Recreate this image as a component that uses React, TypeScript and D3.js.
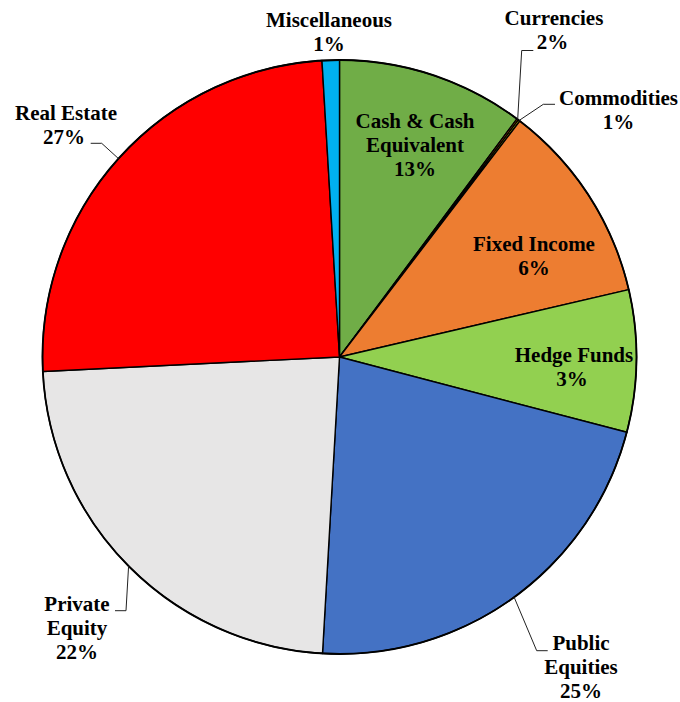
import React from "react";
import * as d3 from "d3";

// ---- data ----
const categories = [
  "Cash & Cash Equivalent",
  "Currencies",
  "Commodities",
  "Fixed Income",
  "Hedge Funds",
  "Public Equities",
  "Private Equity",
  "Real Estate",
  "Miscellaneous",
];
// slice sizes as drawn in the picture (share of the circle, %)
const sliceShares = [10.19, 0.097, 0.097, 10.97, 7.72, 21.83, 23.31, 24.83, 0.94];
// percentages printed in the labels
const labelPercents = [13, 2, 1, 6, 3, 25, 22, 27, 1];
// label line breaks
const labelLines = [
  ["Cash & Cash", "Equivalent"],
  ["Currencies"],
  ["Commodities"],
  ["Fixed Income"],
  ["Hedge Funds"],
  ["Public", "Equities"],
  ["Private", "Equity"],
  ["Real Estate"],
  ["Miscellaneous"],
];

// ---- styles / layout ----
const colors = [
  "#70AD47",
  "#C55A11",
  "#FFFF00",
  "#ED7D31",
  "#92D050",
  "#4472C4",
  "#E7E6E6",
  "#FF0000",
  "#00B0F0",
];
const W = 680;
const H = 702;
const CX = 339.5;
const CY = 357;
const R = 297;
const FONT =
  '"Liberation Serif", "Times New Roman", Times, Tinos, "DejaVu Serif", "Noto Serif", FreeSerif, serif';
const FS = 21;
const LH = 24;

// label placement: x (center), y (first baseline), leader elbow + end (optional)
type LabelPos = { x: number; y: number; leader?: [number, number][] };
const labelLayout: LabelPos[] = [
  { x: 415, y: 128 },
  { x: 554, y: 25, leader: [[521.7, 50.5], [533.3, 50.5]] },
  { x: 618.5, y: 105, leader: [[543.3, 104.3], [555, 104.3]] },
  { x: 534, y: 251 },
  { x: 574, y: 362 },
  { x: 581, y: 650, leader: [[536.7, 650.7], [547.7, 650.7]] },
  { x: 77, y: 611, leader: [[126, 610.7], [115, 610.7]] },
  { x: 66, y: 120, leader: [[101.7, 143.3], [90.7, 143.3]] },
  { x: 329, y: 27 },
];
const percentOffsetX = [0, -1.5, 0, 0, -2, 0, 0, -2, 0];

export default function App() {
  const pie = d3
    .pie<number>()
    .sort(null)
    .value((d) => d)
    .startAngle(0)
    .endAngle(2 * Math.PI);
  const arcs = pie(sliceShares);
  const arc = d3.arc<d3.PieArcDatum<number>>().innerRadius(0).outerRadius(R);
  const line = d3.line<[number, number]>();

  return (
    <div style={{ position: "absolute", left: 0, top: 0 }}>
      <svg width={W} height={H} style={{ display: "block", background: "#fff" }}>
        <g transform={`translate(${CX},${CY})`}>
          {arcs.map((a, i) => (
            <path
              key={categories[i]}
              d={arc(a) || ""}
              fill={colors[i]}
              stroke="#000"
              strokeWidth={1.4}
              strokeLinejoin="round"
            />
          ))}
          <circle r={R} fill="none" stroke="#000" strokeWidth={1.8} />
        </g>
        {arcs.map((a, i) => {
          const lp = labelLayout[i];
          if (!lp.leader) return null;
          const mid = (a.startAngle + a.endAngle) / 2;
          const start: [number, number] = [CX + R * Math.sin(mid), CY - R * Math.cos(mid)];
          return (
            <path
              key={"leader-" + i}
              d={line([start, ...lp.leader]) || ""}
              fill="none"
              stroke="#222"
              strokeWidth={1}
            />
          );
        })}
        {categories.map((c, i) => {
          const lp = labelLayout[i];
          const lines = labelLines[i];
          return (
            <text
              key={"label-" + c}
              x={lp.x}
              y={lp.y}
              textAnchor="middle"
              style={{ fontFamily: FONT, fontWeight: 700, fontSize: FS }}
              fill="#000"
            >
              {lines.map((t, j) => (
                <tspan key={j} x={lp.x} y={lp.y + j * LH}>
                  {t}
                </tspan>
              ))}
              <tspan x={lp.x + percentOffsetX[i]} y={lp.y + lines.length * LH}>
                {labelPercents[i] + "%"}
              </tspan>
            </text>
          );
        })}
      </svg>
    </div>
  );
}
